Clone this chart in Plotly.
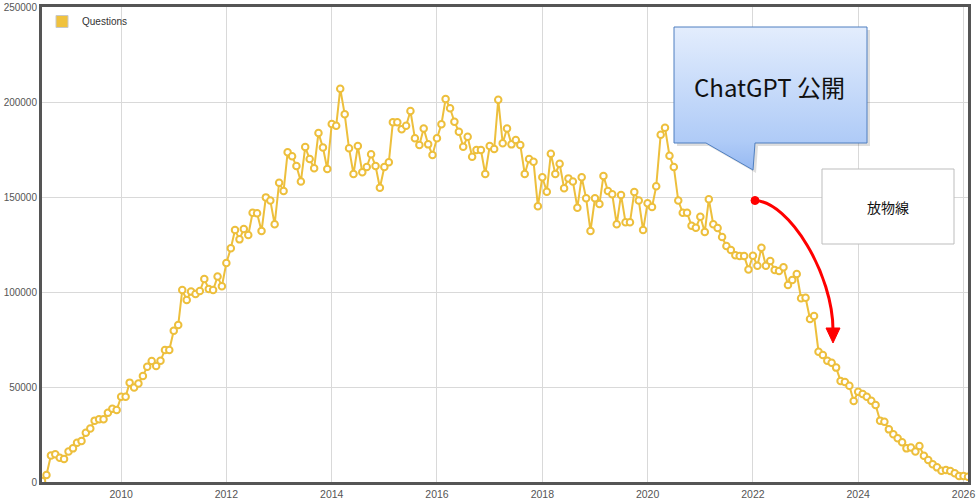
import pandas as pd
import plotly.graph_objects as go

# ---- data (monthly question counts) ----
start_month = "2008-07-01"
questions = [
    500, 3700, 14000, 14600, 12800, 12100, 16000, 17700, 20700, 21600,
    25900, 28200, 32300, 33000, 33000, 36500, 38600, 37900, 44900, 44900,
    52300, 49800, 51900, 55800, 60700, 63700, 61100, 63800, 69500, 69500,
    79600, 82600, 101000, 95800, 100200, 98900, 100500, 106800, 101600, 101000,
    108100, 103000, 115300, 123000, 132600, 127700, 133200, 130000, 141700, 141400,
    132100, 149800, 148100, 135600, 157500, 153200, 173500, 171400, 166300, 158100,
    176300, 170000, 165100, 183700, 176000, 164700, 188400, 187500, 207000, 193500,
    175600, 162100, 176800, 163000, 165800, 172500, 166300, 154900, 165800, 168300,
    189300, 189300, 185600, 187500, 195300, 180900, 177400, 186100, 177700, 172100,
    180900, 188300, 201600, 196700, 189600, 184400, 176500, 181700, 171200, 174700,
    174700, 162100, 176800, 175300, 201200, 178300, 186100, 177700, 180000, 177400,
    162100, 170000, 168600, 145100, 160400, 152800, 172800, 162100, 167500, 154600,
    159800, 158100, 144400, 160400, 149300, 132100, 149300, 146300, 161100, 153200,
    151400, 135600, 151100, 136700, 136700, 152600, 148100, 132600, 146700, 144700,
    155600, 182800, 186500, 171700, 165800, 148100, 141700, 141700, 134900, 133800,
    139600, 131600, 148800, 135600, 133700, 128900, 124200, 122100, 119300, 118900,
    118900, 111900, 119100, 113800, 123300, 113800, 116300, 111600, 111100, 113000,
    103700, 106300, 109500, 96700, 97000, 85800, 87400, 68600, 66800, 63800,
    62800, 60200, 53200, 52600, 50600, 42600, 47500, 46300, 44900, 42800,
    40500, 32300, 31700, 27700, 25100, 23000, 20900, 17700, 18100, 16000,
    18900, 13800, 11600, 9300, 7700, 5900, 6300, 5800, 4600, 3200,
    3200, 2800,
]
months = pd.date_range(start_month, periods=len(questions), freq="MS")
series_name = "Questions"
y_ticks = [0, 50000, 100000, 150000, 200000, 250000]
callout_text = "ChatGPT 公開"
box_text = "放物線"

YELLOW = "#EDBF3C"
FONT = "Liberation Sans, Arial, sans-serif"
CJK = "Noto Sans CJK JP, sans-serif"

fig = go.Figure()

fig.add_trace(go.Scatter(
    x=months, y=questions, mode="lines+markers", name=series_name,
    line=dict(color=YELLOW, width=2),
    marker=dict(size=6.5, color="white", line=dict(color=YELLOW, width=2)),
    showlegend=False,
))
# legend swatch
fig.add_trace(go.Bar(
    x=[None], y=[None], name=series_name,
    marker=dict(color="#F0C23E", line=dict(color="#C8C8C8", width=1)),
    showlegend=True,
))

# ---- overlay axes in screen pixel units for the annotations ----
L, R, T, B = 42, 968, 7, 482

def shape_path(pts, close=True):
    s = "M " + " L ".join(f"{x},{y}" for x, y in pts)
    return s + (" Z" if close else "")

callout = [(674, 27), (867, 27), (867, 143), (755, 143), (753, 170), (706, 143), (674, 143), (674, 27)]
shadow = [(x + 3, y + 3) for x, y in callout]

fig.add_trace(go.Scatter(
    x=[p[0] for p in shadow], y=[p[1] for p in shadow], xaxis="x2", yaxis="y2",
    mode="lines", fill="toself", fillcolor="rgba(0,0,0,0.13)",
    line=dict(width=0, color="rgba(0,0,0,0)"), hoverinfo="skip", showlegend=False,
))
fig.add_trace(go.Scatter(
    x=[p[0] for p in callout], y=[p[1] for p in callout], xaxis="x2", yaxis="y2",
    mode="lines", fill="toself",
    fillgradient=dict(type="vertical", start=27, stop=170,
                      colorscale=[[0, "#E3EDFD"], [0.8, "#AFCBF7"], [1, "#96B9F2"]]),
    line=dict(width=1, color="#4F7FC0"), hoverinfo="skip", showlegend=False,
))

shapes = [
    # parabola box
    dict(type="rect", xref="x2", yref="y2", x0=822, x1=954, y0=169, y1=244,
         fillcolor="white", line=dict(color="#BDBDBD", width=1)),
    # red curve
    dict(type="path", xref="x2", yref="y2",
         path="M 755,200.5 C 790,202 833,275 833,330",
         line=dict(color="#FF0000", width=3)),
    dict(type="path", xref="x2", yref="y2",
         path=shape_path([(826, 328), (840, 328), (833, 343)]),
         fillcolor="#FF0000", line=dict(color="#FF0000", width=1)),
    dict(type="circle", xref="x2", yref="y2", x0=751, x1=759, y0=196.5, y1=204.5,
         fillcolor="#FF0000", line=dict(color="#FF0000", width=1)),
]

annotations = [
    dict(xref="x2", yref="y2", x=769, y=86, text=callout_text, showarrow=False,
         font=dict(family=CJK, size=24, color="#111111")),
    dict(xref="x2", yref="y2", x=888, y=207, text=box_text, showarrow=False,
         font=dict(family=CJK, size=14, color="#111111")),
]

fig.update_layout(
    width=979, height=499,
    margin=dict(l=L, r=979 - R, t=T, b=499 - B, autoexpand=False),
    paper_bgcolor="white", plot_bgcolor="white",
    font=dict(family=FONT, size=10, color="#555555"),
    showlegend=True,
    legend=dict(x=0.0, y=1.0, xanchor="left", yanchor="top",
                bgcolor="rgba(0,0,0,0)", font=dict(size=10, color="#333333")),
    xaxis=dict(
        type="date", range=[months[0], months[-1]], automargin=False,
        tick0="2010-01-01", dtick="M24", tickformat="%Y",
        showgrid=True, gridcolor="#D9D9D9", gridwidth=1,
        showline=True, linecolor="#555555", linewidth=3, mirror=True,
        ticks="", zeroline=False, tickfont=dict(size=10.5, color="#555555"),
    ),
    yaxis=dict(
        range=[0, 250000], tickvals=y_ticks, ticktext=[str(v) for v in y_ticks],
        automargin=False,
        showgrid=True, gridcolor="#D9D9D9", gridwidth=1,
        showline=True, linecolor="#555555", linewidth=3, mirror=True,
        ticks="", zeroline=False, tickfont=dict(size=10, color="#555555"),
    ),
    xaxis2=dict(overlaying="x", range=[L, R], visible=False, fixedrange=True),
    yaxis2=dict(overlaying="y", range=[B, T], visible=False, fixedrange=True),
    shapes=shapes,
    annotations=annotations,
)

fig.write_html(
    "out.html",
    config={"displayModeBar": False},
    post_script="document.body.style.margin='0';document.body.style.overflow='hidden';",
)
